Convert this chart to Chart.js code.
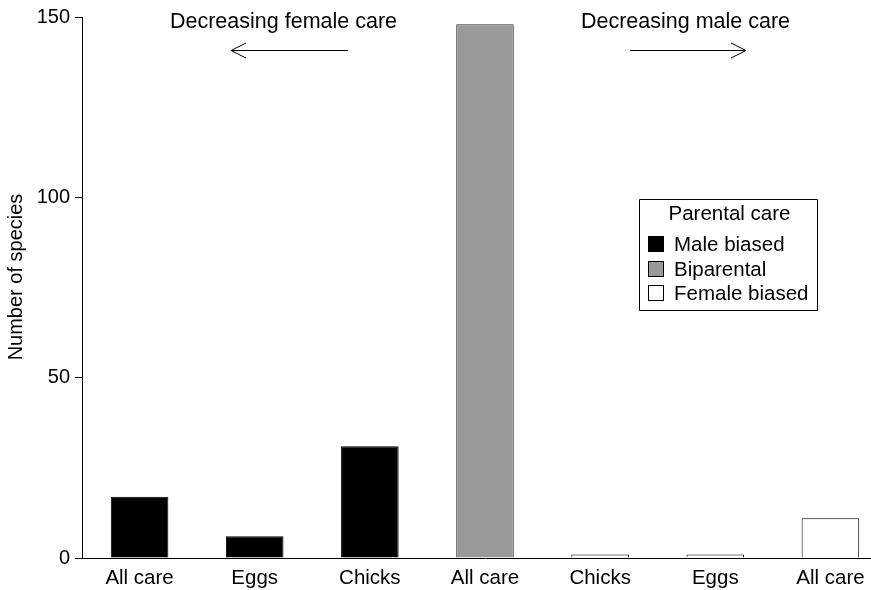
<!DOCTYPE html>
<html><head><meta charset="utf-8">
<script src="https://cdn.jsdelivr.net/npm/chart.js@4"></script>
<style>
html,body{margin:0;padding:0;background:#fff;overflow:hidden;width:871px;height:590px}
#wrap{width:888px;height:590px;position:relative}
</style></head>
<body><div id="wrap"><canvas id="c" width="888" height="590"></canvas></div>
<script>
const categories = ["All care","Eggs","Chicks","All care","Chicks","Eggs","All care"];
const maleBiased = [17,6,31,null,null,null,null];
const biparental = [null,null,null,148,null,null,null];
const femaleBiased = [null,null,null,null,1,1,11];
const yTicks = [0,50,100,150];
const seriesNames = ["Male biased","Biparental","Female biased"];
const legendTitle = "Parental care";
const yTitle = "Number of species";
const leftNote = "Decreasing female care";
const rightNote = "Decreasing male care";

const FONT = "'Liberation Sans', Arial, Helvetica, sans-serif";

const annotPlugin = {
  id: 'annot',
  afterDraw(chart) {
    const ctx = chart.ctx;
    ctx.save();
    ctx.fillStyle = '#000';
    ctx.strokeStyle = '#000';
    ctx.lineWidth = 1;
    // y-axis title
    ctx.save();
    ctx.translate(16, 277);
    ctx.rotate(-Math.PI / 2);
    ctx.font = "20px " + FONT;
    ctx.textAlign = 'center';
    ctx.textBaseline = 'middle';
    ctx.fillText(yTitle, 0, 0);
    ctx.restore();

    ctx.font = "21.5px " + FONT;
    ctx.textAlign = 'center';
    ctx.textBaseline = 'middle';
    ctx.fillText(leftNote, 283.5, 22);
    ctx.fillText(rightNote, 685.5, 22);
    // left arrow
    ctx.beginPath();
    ctx.moveTo(348, 50.5); ctx.lineTo(231, 50.5);
    ctx.moveTo(246, 43); ctx.lineTo(231, 50.5); ctx.lineTo(246, 58);
    ctx.stroke();
    // right arrow
    ctx.beginPath();
    ctx.moveTo(630, 50.5); ctx.lineTo(746, 50.5);
    ctx.moveTo(731, 43); ctx.lineTo(746, 50.5); ctx.lineTo(731, 58);
    ctx.stroke();

    // legend
    const lx = 639.5, ly = 199.5, lw = 178, lh = 111;
    ctx.beginPath();
    ctx.rect(lx, ly, lw, lh);
    ctx.stroke();
    ctx.font = "20.5px " + FONT;
    ctx.textAlign = 'center';
    ctx.fillText(legendTitle, 729.5, 214);
    ctx.textAlign = 'left';
    const ys = [244, 269, 293];
    chart.data.datasets.forEach((ds, i) => {
      const y = ys[i];
      ctx.fillStyle = ds.backgroundColor;
      ctx.fillRect(648.5, y - 7.5, 15, 15);
      ctx.strokeStyle = '#000';
      ctx.strokeRect(648.5, y - 7.5, 15, 15);
      ctx.fillStyle = '#000';
      ctx.fillText(ds.label, 674, y + 1);
    });
    ctx.restore();
  }
};

new Chart(document.getElementById('c'), {
  type: 'bar',
  data: {
    labels: categories,
    datasets: [
      { label: seriesNames[0], data: maleBiased, backgroundColor: '#000000', borderColor: '#000000', borderWidth: 1 },
      { label: seriesNames[1], data: biparental, backgroundColor: '#999999', borderColor: '#333333', borderWidth: 1 },
      { label: seriesNames[2], data: femaleBiased, backgroundColor: '#ffffff', borderColor: '#000000', borderWidth: 1 }
    ]
  },
  options: {
    responsive: false,
    animation: false,
    devicePixelRatio: 1,
    layout: { padding: { top: 14, left: 0, right: 0, bottom: 0 } },
    datasets: { bar: { barPercentage: 0.5, categoryPercentage: 1.0 } },
    plugins: { legend: { display: false }, tooltip: { enabled: false } },
    scales: {
      x: {
        stacked: true,
        offset: true,
        grid: { display: false, drawTicks: false },
        border: { display: true, color: '#000', width: 1 },
        ticks: { color: '#000', font: { size: 20.5, family: FONT }, padding: 8, maxRotation: 0, autoSkip: false },
        afterFit(scale) { scale.height = 32; }
      },
      y: {
        stacked: true,
        min: 0, max: 150,
        afterBuildTicks(scale) { scale.ticks = yTicks.map(v => ({ value: v })); },
        grid: { display: true, drawOnChartArea: false, drawTicks: true, tickLength: 7, color: '#000' },
        border: { display: true, color: '#000', width: 1 },
        ticks: { color: '#000', font: { size: 20, family: FONT }, padding: 5 },
        title: { display: false },
        afterFit(scale) { scale.width = 82; }
      }
    }
  },
  plugins: [annotPlugin]
});
</script>
</body></html>
